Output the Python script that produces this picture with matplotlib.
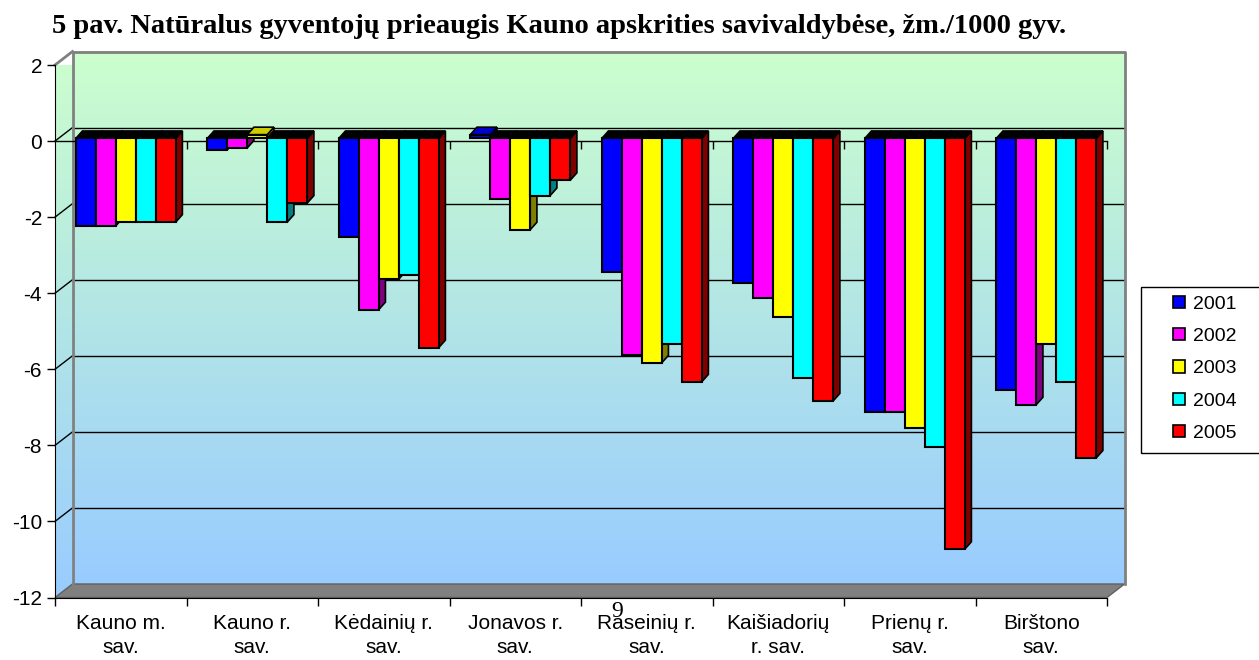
import matplotlib
matplotlib.use("Agg")
import matplotlib.pyplot as plt
import numpy as np
from matplotlib.patches import Polygon, Rectangle, Patch
from matplotlib.transforms import offset_copy, IdentityTransform

plt.rcParams['font.family'] = ['Liberation Sans', 'DejaVu Sans']
plt.rcParams['axes.unicode_minus'] = False

# data (žm./1000 gyv.)
categories = ["Kauno m.\nsav.", "Kauno r.\nsav.", "Kėdainių r.\nsav.", "Jonavos r.\nsav.",
              "Raseinių r.\nsav.", "Kaišiadorių\nr. sav.", "Prienų r.\nsav.", "Birštono\nsav."]
years = ["2001", "2002", "2003", "2004", "2005"]
v2001 = [-2.3, -0.3, -2.6, 0.1, -3.5, -3.8, -7.2, -6.6]
v2002 = [-2.3, -0.25, -4.5, -1.6, -5.7, -4.2, -7.2, -7.0]
v2003 = [-2.2, 0.1, -3.7, -2.4, -5.9, -4.7, -7.6, -5.4]
v2004 = [-2.2, -2.2, -3.6, -1.5, -5.4, -6.3, -8.1, -6.4]
v2005 = [-2.2, -1.7, -5.5, -1.1, -6.4, -6.9, -10.8, -8.4]
series = [v2001, v2002, v2003, v2004, v2005]

front_colors = ["#0000FF", "#FF00FF", "#FFFF00", "#00FFFF", "#FF0000"]
side_colors = ["#000080", "#800080", "#808000", "#008080", "#800000"]
top_pos_colors = ["#0000CC", "#CC00CC", "#CCCC00", "#00CCCC", "#CC0000"]

W, H = 1259, 660
fig = plt.figure(figsize=(W / 100, H / 100), dpi=100)
ax = fig.add_axes([55 / W, (H - 597.5) / H, (1107 - 55) / W, (597.5 - 65) / H])
ax.set_xlim(0, 8)
ax.set_ylim(-12, 2)
ax.set_facecolor("none")
for s in ["top", "right"]:
    ax.spines[s].set_visible(False)
ax.spines["left"].set_color("black")
ax.spines["bottom"].set_color("black")

# depth offsets in pixels (wall depth, bar front plane, bar depth)
WALL = (17.5, 13.5)
BAR_FRONT = (3.0, 2.6)
BAR_DEPTH = (6.7, 7.5)

back_trans = offset_copy(ax.transData, fig=fig, x=WALL[0], y=WALL[1], units="dots")
bar_trans = offset_copy(ax.transData, fig=fig, x=BAR_FRONT[0], y=BAR_FRONT[1], units="dots")
ident = IdentityTransform()


def px(x, y, dx=0.0, dy=0.0):
    p = ax.transData.transform((x, y))
    return (p[0] + dx, p[1] + dy)


# gradient for walls
top_rgb = np.array([204, 255, 204]) / 255
bot_rgb = np.array([153, 204, 255]) / 255
t = np.linspace(0, 1, 256)[:, None, None]
grad = top_rgb * (1 - t) + bot_rgb * t

im = ax.imshow(grad, extent=[0, 8, -12, 2], transform=back_trans, aspect="auto",
               origin="upper", zorder=0, interpolation="bilinear")
im.set_clip_on(False)

# left side wall
sw = [px(0, 2), px(0, 2, *WALL), px(0, -12, *WALL), px(0, -12)]
x0, x1 = sw[0][0], sw[1][0]
y0, y1 = sw[3][1], sw[1][1]
im2 = ax.imshow(grad, extent=[x0, x1, y0, y1], transform=ident, aspect="auto",
                origin="upper", zorder=0, interpolation="bilinear")
clip = Polygon(sw, closed=True, transform=ident)
im2.set_clip_path(clip)

# floor
floor = Polygon([px(0, -12), px(8, -12), px(8, -12, *WALL), px(0, -12, *WALL)],
                closed=True, transform=ident, facecolor="#808080", edgecolor="#606060",
                lw=1, zorder=1, clip_on=False)
ax.add_patch(floor)

# gridlines on back wall and side wall
yt = np.arange(-12, 3, 2)
ax.hlines(yt[1:-1], 0, 8, colors="black", lw=1, transform=back_trans, zorder=1, clip_on=False)
for yv in yt[1:-1]:
    a, b = px(0, yv), px(0, yv, *WALL)
    ax.plot([a[0], b[0]], [a[1], b[1]], color="black", lw=1, transform=ident, zorder=1, clip_on=False)

# wall borders
ax.plot([0, 0, 8, 8], [-12, 2, 2, -12], color="#808080", lw=2, transform=back_trans,
        zorder=1.5, clip_on=False)
a, b = px(0, 2), px(0, 2, *WALL)
ax.plot([a[0], b[0]], [a[1], b[1]], color="#808080", lw=2, transform=ident, zorder=1.5, clip_on=False)

# zero axis with ticks
ax.plot([0, 8], [0, 0], color="black", lw=1, zorder=2, clip_on=False)
ax.plot(np.arange(1, 9), np.zeros(8), ls="none", marker=3, markersize=6,
        mec="black", mew=1, zorder=2, clip_on=False)

# bars
nb = len(series)
bw = 0.152
idx = np.arange(len(categories))
for k, vals in enumerate(series):
    xs = idx + 0.515 + (k - (nb - 1) / 2) * bw
    z = 3 + 2 * k
    for xc, v in zip(xs, vals):
        l, r = xc - bw / 2, xc + bw / 2
        ytop = max(v, 0)
        lo, hi = min(v, 0), max(v, 0)
        fx, fy = BAR_FRONT
        bx, by = BAR_FRONT[0] + BAR_DEPTH[0], BAR_FRONT[1] + BAR_DEPTH[1]
        side = [px(r, lo, fx, fy), px(r, hi, fx, fy), px(r, hi, bx, by), px(r, lo, bx, by)]
        ax.add_patch(Polygon(side, closed=True, transform=ident, facecolor=side_colors[k],
                             edgecolor="black", lw=1.2, zorder=z, clip_on=False))
        top = [px(l, ytop, fx, fy), px(r, ytop, fx, fy), px(r, ytop, bx, by), px(l, ytop, bx, by)]
        tc = top_pos_colors[k] if v > 0 else "black"
        ax.add_patch(Polygon(top, closed=True, transform=ident, facecolor=tc,
                             edgecolor="black", lw=1.2, zorder=z, clip_on=False))
    ax.bar(xs, vals, width=bw, color=front_colors[k], edgecolor="black", linewidth=1.5,
           transform=bar_trans, zorder=z + 1, clip_on=False)

# axes ticks
ax.set_yticks(yt)
ax.set_yticklabels([str(v) for v in yt])
ax.tick_params(axis="y", direction="out", length=5.8, width=1, pad=3.5, labelsize=15)
ax.set_xticks(idx + 0.5)
ax.set_xticklabels(categories, fontsize=15, linespacing=1.3)
ax.set_xticks(np.arange(0, 9), minor=True)
ax.tick_params(axis="x", which="major", length=0, pad=12)
ax.tick_params(axis="x", which="minor", direction="out", length=5.8, width=1)

# legend
handles = [Patch(facecolor=c, edgecolor="black", linewidth=1.2) for c in front_colors]
ax.legend(handles, years, loc="upper left", bbox_to_anchor=(1173 / W, 1 - 295.5 / H),
          bbox_transform=fig.transFigure, frameon=False, fontsize=14, handlelength=0.6,
          handleheight=0.6, handletextpad=0.45, labelspacing=0.79, borderpad=0,
          borderaxespad=0)
fig.patches.append(Rectangle((1141 / W, 1 - 453 / H), 130 / W, 166 / H, transform=fig.transFigure,
                             fill=False, edgecolor="black", lw=1))

# title and page number
fig.text(52 / W, 1 - 33 / H,
         "5 pav. Natūralus gyventojų prieaugis Kauno apskrities savivaldybėse, žm./1000 gyv.",
         fontsize=20.5, fontweight="bold", family=["Liberation Serif", "DejaVu Serif"],
         va="baseline")
fig.text(617 / W, 1 - 617 / H, "9", fontsize=17, family=["Liberation Serif", "DejaVu Serif"],
         ha="center", va="baseline", zorder=10)

fig.savefig("out.png", dpi=100)
